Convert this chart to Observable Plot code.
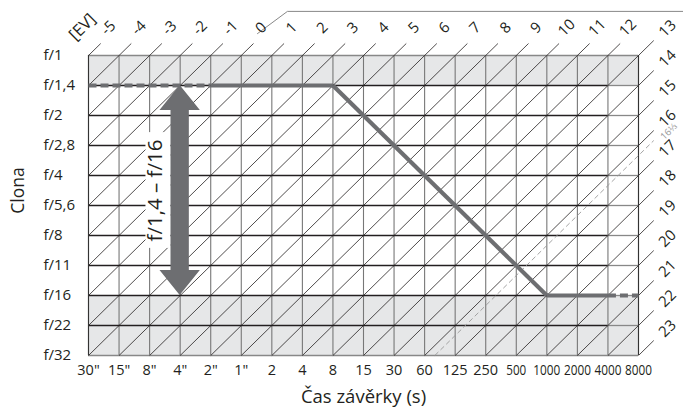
<!DOCTYPE html>
<html><head><meta charset="utf-8">
<script src="https://cdn.jsdelivr.net/npm/d3@7"></script>
<script src="https://cdn.jsdelivr.net/npm/@observablehq/plot@0.6"></script>
<style>
body{margin:0;background:#fff;}
#chart svg{display:block;}
</style></head><body><div id="chart"></div>
<script>
// ---- data ----
const shutterLabels = ['30"','15"','8"','4"','2"','1"','2','4','8','15','30','60','125','250','500','1000','2000','4000','8000'];
const apertureLabels = ['f/1','f/1,4','f/2','f/2,8','f/4','f/5,6','f/8','f/11','f/16','f/22','f/32'];
const evTopLabels = [-5,-4,-3,-2,-1,0,1,2,3,4,5,6,7,8,9,10,11,12];
const evRightLabels = [13,14,15,16,17,18,19,20,21,22,23];
const evDashed = 16 + 1/3;
const evDashedLabel = "16⅓";
const shadedRanges = [["f/1","f/1,4"],["f/16","f/32"]];
const programShutter = ['30"','2"','8','1000','4000','8000'];
const programAperture = ['f/1,4','f/1,4','f/1,4','f/16','f/16','f/16'];
const programSegmentDashed = [true,false,false,false,true];
const lastActiveShutter = "4000";
const arrowShutter = '4"';
const arrowFrom = "f/1,4";
const arrowTo = "f/16";
const arrowLabel = "f/1,4 – f/16";
const xTitle = "Čas závěrky (s)";
const yTitle = "Clona";
const evTitle = "[EV]";

// ---- derived ----
const si = s => shutterLabels.indexOf(s);
const ai = a => apertureLabels.indexOf(a);
const nX = shutterLabels.length - 1;
const nY = apertureLabels.length - 1;
const ev0 = evTopLabels[0];
const lastActive = si(lastActiveShutter);
const ink = "#231f20";
const grey = "#6d6e71";

function diag(ev, extTop = 0.4, extRight = 0.5) {
  const s = ev - ev0;
  const start = s <= nY ? [0, s] : [s - nY, nY];
  const end = s < nX ? [s + extTop, -extTop] : [nX + extRight, s - nX - extRight];
  return {x1: start[0], y1: start[1], x2: end[0], y2: end[1]};
}
const diagonals = [...evTopLabels, ...evRightLabels].map(ev => diag(ev));
const dashedDiag = diag(evDashed);

const topLabels = evTopLabels.map(ev => ({ev, x: ev - ev0 + 0.65, y: -0.92}));
const rightLabels = evRightLabels.map(ev => ({ev, x: nX + 0.95, y: ev - ev0 - nX - 0.9}));

const shades = shadedRanges.map(([a, b]) => ({x1: 0, x2: nX, y1: ai(a), y2: ai(b)}));

const program = programShutter.map((s, k) => ({x: si(s), y: ai(programAperture[k])}));
const segs = programSegmentDashed.map((d, k) => ({x1: program[k].x, y1: program[k].y, x2: program[k+1].x, y2: program[k+1].y, d}));

const ax = si(arrowShutter), ay0 = ai(arrowFrom), ay1 = ai(arrowTo);
const headH = 0.83, headW = 0.66, shaftW = 0.3;
const arrowPts = [
  {y: ay0, x1: ax, x2: ax},
  {y: ay0 + headH, x1: ax - headW, x2: ax + headW},
  {y: ay0 + headH, x1: ax - shaftW, x2: ax + shaftW},
  {y: ay1 - headH, x1: ax - shaftW, x2: ax + shaftW},
  {y: ay1 - headH, x1: ax - headW, x2: ax + headW},
  {y: ay1, x1: ax, x2: ax}
];
const aMid = (ay0 + ay1) / 2;

const evZero = evTopLabels.indexOf(0);
const frame = [
  {x: evZero + 0.53, y: -0.73},
  {x: evZero + 1.51, y: -1.47},
  {x: nX + 1.6, y: -1.47}
];

const xi = d3.range(shutterLabels.length);
const yi = d3.range(apertureLabels.length);
const innerY = yi.slice(1, -1);

const chart = Plot.plot({
  width: 683, height: 410,
  marginLeft: 88, marginRight: 45, marginTop: 55, marginBottom: 55,
  x: {type: "linear", domain: [0, nX], axis: null},
  y: {type: "linear", domain: [0, nY], reverse: true, axis: null},
  style: {fontFamily: "'Open Sans', sans-serif", background: "white", color: ink},
  marks: [
    Plot.rect(shades, {x1: "x1", x2: "x2", y1: "y1", y2: "y2", fill: "#e6e7e8"}),
    Plot.ruleX(xi, {x: d => d, y1: 0, y2: nY, stroke: "#777", strokeWidth: 1.1}),
    Plot.ruleY([0, nY], {y: d => d, x1: 0, x2: nX, stroke: "#888", strokeWidth: 1.3}),
    Plot.ruleY(innerY, {y: d => d, x1: lastActive, x2: nX, stroke: "#888", strokeWidth: 1.3}),
    Plot.ruleY(innerY, {y: d => d, x1: 0, x2: lastActive, stroke: ink, strokeWidth: 1.6}),
    Plot.link(diagonals, {x1: "x1", y1: "y1", x2: "x2", y2: "y2", stroke: ink, strokeWidth: 0.8}),
    Plot.ruleX([0, nX], {x: d => d, y1: 0, y2: nY, stroke: "#333", strokeWidth: 1.1}),
    Plot.link([dashedDiag], {x1: "x1", y1: "y1", x2: "x2", y2: "y2", stroke: "#999", strokeWidth: 0.9, strokeDasharray: "5,3"}),
    Plot.text([evDashedLabel], {x: dashedDiag.x2, y: dashedDiag.y2, dx: 15, dy: -9, rotate: -45, fill: "#999", fontSize: 9.5}),
    Plot.line(frame, {x: "x", y: "y", stroke: "#888", strokeWidth: 1}),
    Plot.text(topLabels, {x: "x", y: "y", text: d => String(d.ev), rotate: -45, fontSize: 15, fill: ink}),
    Plot.text(rightLabels, {x: "x", y: "y", text: d => String(d.ev), rotate: -45, fontSize: 15, fill: ink}),
    Plot.text([evTitle], {x: -0.2, y: -0.95, rotate: -45, fontSize: 16.5, fill: ink}),
    Plot.text(yi, {x: 0, y: d => d, text: d => apertureLabels[d], dx: -45, textAnchor: "start", fontSize: 15, fill: ink}),
    Plot.text(xi, {x: d => d, y: nY, text: d => shutterLabels[d], dy: 15, fontSize: 14.5, fill: ink, className: "xtick"}),
    Plot.text([xTitle], {frameAnchor: "bottom", lineAnchor: "middle", dy: 42, fontSize: 18.5, fill: ink}),
    Plot.text([yTitle], {frameAnchor: "left", textAnchor: "middle", dx: -70, dy: -15, rotate: -90, fontSize: 17.5, fill: ink}),
    Plot.link(segs.filter(d => !d.d), {x1: "x1", y1: "y1", x2: "x2", y2: "y2", stroke: grey, strokeWidth: 4.2, strokeLinecap: "butt", strokeLinejoin: "miter"}),
    Plot.link(segs.filter(d => d.d), {x1: "x1", y1: "y1", x2: "x2", y2: "y2", stroke: grey, strokeWidth: 4.2, strokeDasharray: "8,4", strokeLinecap: "butt"}),
    Plot.rect([aMid], {x1: ax - 1.12, x2: ax - shaftW, y1: d => d - 1.93, y2: d => d + 1.93, fill: "white"}),
    Plot.text([arrowLabel], {x: ax - 0.8, y: aMid, rotate: -90, fontSize: 20.5, fill: ink}),
    Plot.areaX(arrowPts, {y: "y", x1: "x1", x2: "x2", fill: grey, curve: "linear"})
  ]
});
document.getElementById("chart").appendChild(chart);
d3.select(chart).selectAll(".xtick text").each(function() {
  const t = this.textContent;
  if (t.length >= 3 && /^\d+$/.test(t) && Number(t) >= 500) {
    this.setAttribute("textLength", t.length * 7 - 1);
    this.setAttribute("lengthAdjust", "spacingAndGlyphs");
  }
});
</script>
</body></html>
